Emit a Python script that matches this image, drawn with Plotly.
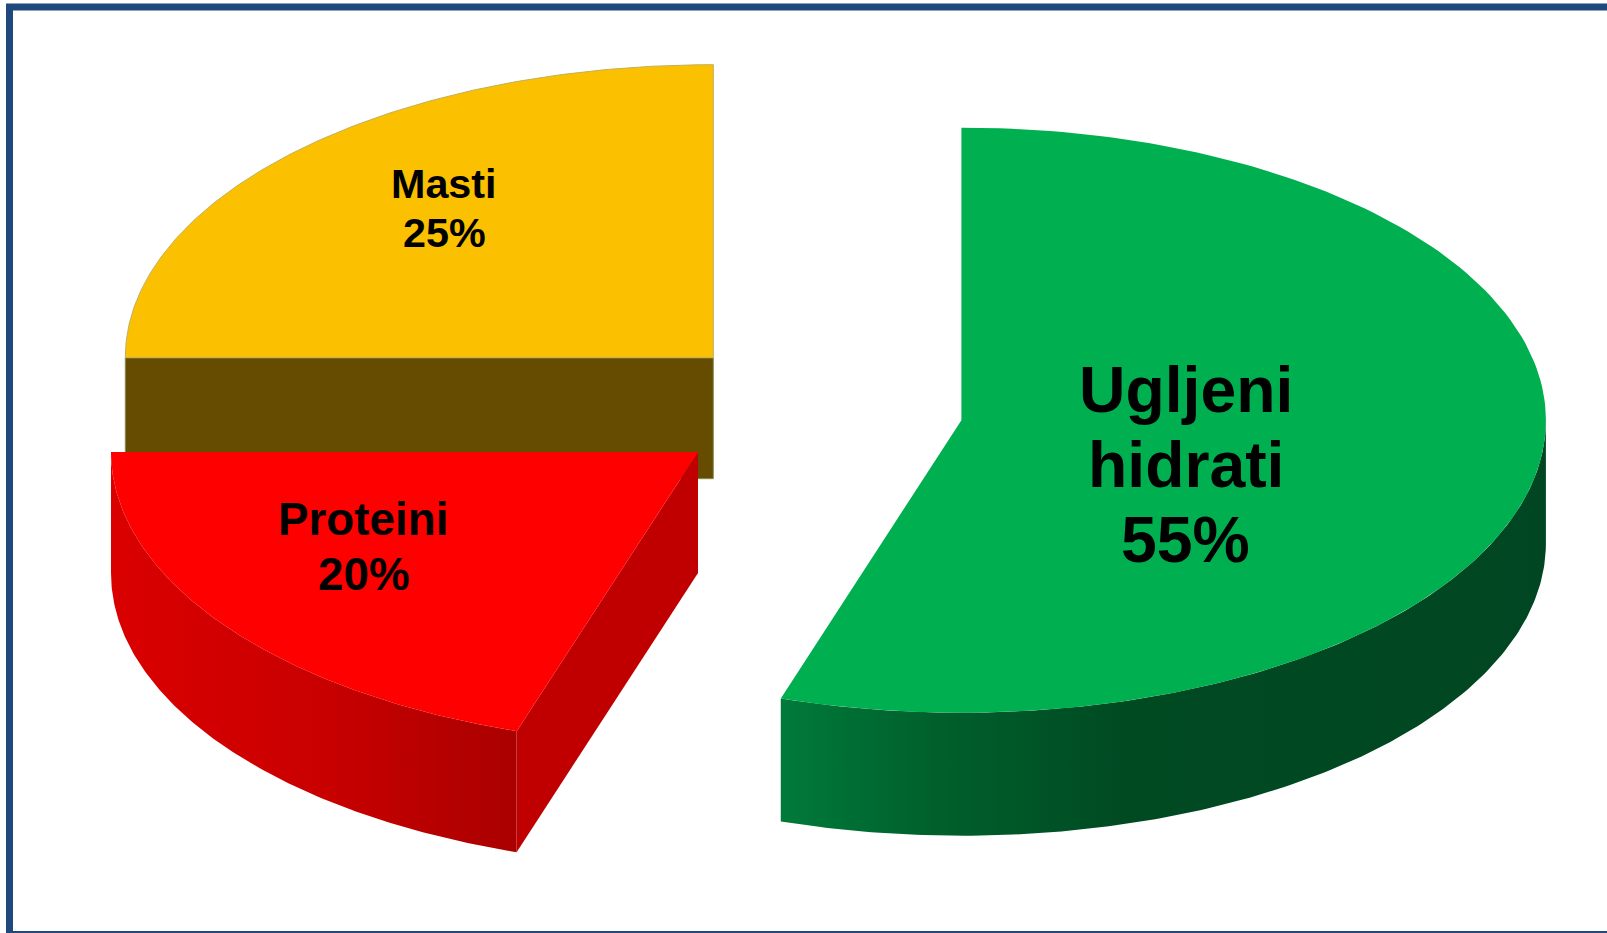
import numpy as np
import plotly.graph_objects as go

categories = ["Ugljeni hidrati", "Proteini", "Masti"]
values = [55, 20, 25]
label_lines = [["Ugljeni", "hidrati"], ["Proteini"], ["Masti"]]

W, H = 1607, 933
# exploded sector geometry (pixels on a 1:1 axis)
geom = {
    "Ugljeni hidrati": dict(cx=961.4, cy=420.2, rx=584.5, ry=292.5, d=123),
    "Proteini": dict(cx=698, cy=452, rx=587, ry=293.5, d=121),
    "Masti": dict(cx=713.3, cy=357.7, rx=588, ry=293, d=121),
}
label_style = {
    "Ugljeni hidrati": dict(x=1185.8, y0=390, dy=75, size=64.3),
    "Proteini": dict(x=363.8, y0=519.6, dy=54.5, size=45.8),
    "Masti": dict(x=444.3, y0=184, dy=49, size=41.3),
}
top_col = {"Ugljeni hidrati": "#00B050", "Proteini": "#FF0000", "Masti": "#FBC000"}


def arc(g, a0, a1, dz=0.0):
    t = np.radians(np.linspace(a0, a1, 160))
    return g["cx"] + g["rx"] * np.sin(t), g["cy"] - g["ry"] * np.cos(t) + dz


def poly(fig, xs, ys, color=None, grad=None, line=None):
    kw = dict(x=list(xs) + [xs[0]], y=list(ys) + [ys[0]], mode="lines", fill="toself",
              hoverinfo="skip", showlegend=False,
              line=dict(width=1 if line else 0, color=line or "rgba(0,0,0,0)"))
    if grad:
        kw["fillgradient"] = grad
    else:
        kw["fillcolor"] = color
    fig.add_trace(go.Scatter(**kw))


def wall(g, a0, a1):
    x0, y0 = arc(g, a0, a1)
    x1, y1 = arc(g, a1, a0, g["d"])
    return np.r_[x0, x1], np.r_[y0, y1]


edges = np.cumsum([0] + values) * 3.6
spans = {c: (edges[i], edges[i + 1]) for i, c in enumerate(categories)}

fig = go.Figure()

# Masti (back): straight front wall, then top
c = "Masti"; g = geom[c]; a0, a1 = spans[c]
xa, ya = arc(g, a0, a1)
poly(fig, [xa[0], g["cx"], g["cx"], xa[0]],
     [g["cy"], g["cy"], g["cy"] + g["d"], g["cy"] + g["d"]], color="#664C00", line="#8A8A50")
poly(fig, np.r_[xa, g["cx"]], np.r_[ya, g["cy"]], color=top_col[c], line="#C0B060")

# Proteini
c = "Proteini"; g = geom[c]; a0, a1 = spans[c]
xa, ya = arc(g, a0, a1)
poly(fig, [g["cx"], xa[0], xa[0], g["cx"]],
     [g["cy"], ya[0], ya[0] + g["d"], g["cy"] + g["d"]], color="#C00000")
xw, yw = wall(g, a0, a1)
poly(fig, xw, yw, grad=dict(type="horizontal", start=xa[-1], stop=xa[0],
                            colorscale=[[0, "#DA0000"], [0.5, "#CA0000"], [1, "#AA0000"]]))
poly(fig, np.r_[xa, g["cx"]], np.r_[ya, g["cy"]], color=top_col[c])

# Ugljeni hidrati
c = "Ugljeni hidrati"; g = geom[c]; a0, a1 = spans[c]
xa, ya = arc(g, a0, a1)
xw, yw = wall(g, 90, a1)
poly(fig, xw, yw, grad=dict(type="horizontal", start=xa[-1], stop=g["cx"] + g["rx"],
                            colorscale=[[0, "#007A3A"], [0.2, "#00602C"], [0.45, "#004A22"],
                                        [1, "#004622"]]))
poly(fig, np.r_[xa, g["cx"]], np.r_[ya, g["cy"]], color=top_col[c])

annotations = []
for c, v, lines in zip(categories, values, label_lines):
    s = label_style[c]
    for i, txt in enumerate(lines + [f"{v}%"]):
        annotations.append(dict(x=s["x"], y=s["y0"] + i * s["dy"], text=f"<b>{txt}</b>",
                                showarrow=False, xanchor="center", yanchor="middle",
                                font=dict(family="Liberation Sans", size=s["size"], color="#000000")))

fig.update_layout(
    width=W, height=H, margin=dict(l=0, r=0, t=0, b=0),
    paper_bgcolor="#FFFFFF", plot_bgcolor="#FFFFFF", showlegend=False,
    xaxis=dict(range=[0, W], visible=False, fixedrange=True),
    yaxis=dict(range=[H, 0], visible=False, fixedrange=True),
    annotations=annotations,
    shapes=[dict(type="rect", xref="x", yref="y", x0=9.5, y0=7, x1=W + 20, y1=934.5,
                 line=dict(color="#1F497D", width=7), fillcolor="rgba(0,0,0,0)", layer="above")],
)

fig.write_html("out.html", config=dict(displayModeBar=False),
               post_script="document.body.style.margin='0';document.body.style.overflow='hidden';")
